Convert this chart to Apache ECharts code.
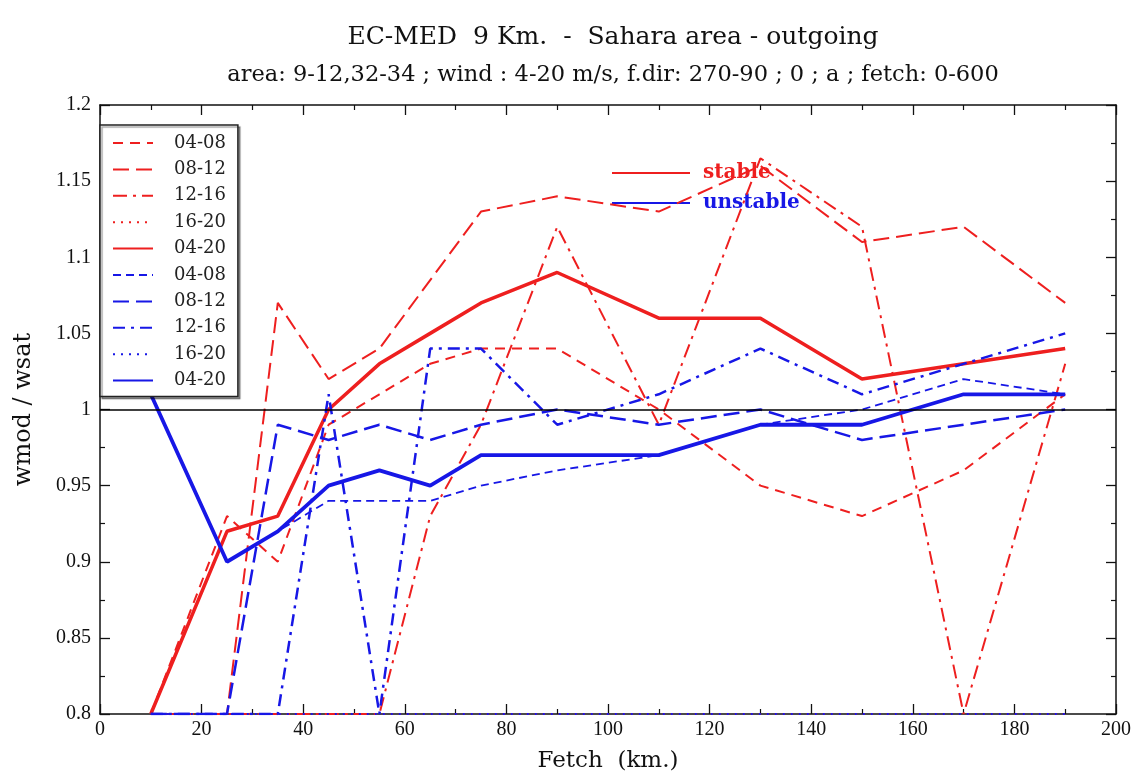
<!DOCTYPE html>
<html>
<head>
<meta charset="utf-8">
<script src="https://cdn.jsdelivr.net/npm/echarts@6/dist/echarts.min.js"></script>
<style>
html,body{margin:0;padding:0;background:#fff;}
#chart{width:1146px;height:778px;}
</style>
</head>
<body>
<div id="chart"></div>
<script>
// ---- data ----
const fetchKm = [10, 25, 35, 45, 55, 65, 75, 90, 110, 130, 150, 170, 190];

const stable0408 = [0.80, 0.93, 0.90, 0.99, 1.01, 1.03, 1.04, 1.04, 1.00, 0.95, 0.93, 0.96, 1.01];
const stable0812 = [0.80, 0.80, 1.07, 1.02, 1.04, 1.085, 1.13, 1.14, 1.13, 1.16, 1.11, 1.12, 1.07];
const stable1216 = [0.80, 0.80, 0.80, 0.80, 0.80, 0.93, 0.99, 1.12, 0.99, 1.165, 1.12, 0.80, 1.03];
const stable1620 = [0.80, 0.80, 0.80, 0.80, 0.80, 0.80, 0.80, 0.80, 0.80, 0.80, 0.80, 0.80, 0.80];
const stable0420 = [0.80, 0.92, 0.93, 1.00, 1.03, 1.05, 1.07, 1.09, 1.06, 1.06, 1.02, 1.03, 1.04];

const unstable0408 = [null, 0.90, 0.92, 0.94, 0.94, 0.94, 0.95, 0.96, 0.97, 0.99, 1.00, 1.02, 1.01];
const unstable0812 = [0.80, 0.80, 0.99, 0.98, 0.99, 0.98, 0.99, 1.00, 0.99, 1.00, 0.98, 0.99, 1.00];
const unstable1216 = [0.80, 0.80, 0.80, 1.01, 0.80, 1.04, 1.04, 0.99, 1.01, 1.04, 1.01, 1.03, 1.05];
const unstable1620 = [0.80, 0.80, 0.80, 0.80, 0.80, 0.80, 0.80, 0.80, 0.80, 0.80, 0.80, 0.80, 0.80];
const unstable0420 = [1.01, 0.90, 0.92, 0.95, 0.96, 0.95, 0.97, 0.97, 0.97, 0.99, 0.99, 1.01, 1.01];

const periodLabels = ['04-08', '08-12', '12-16', '16-20', '04-20'];
const referenceLevel = 1;

const xMin = 0, xMax = 200, xStep = 20;
const yMin = 0.8, yMax = 1.2, yStep = 0.05;

const titleText = 'EC-MED  9 Km.  -  Sahara area - outgoing';
const subtitleText = 'area: 9-12,32-34 ; wind : 4-20 m/s, f.dir: 270-90 ; 0 ; a ; fetch: 0-600';

// ---- styling ----
const RED = '#ee1f1f';
const BLUE = '#1717e6';
const FONT = 'DejaVu Serif';
const TICKFONT = 'Liberation Serif';

function pairs(arr) { return fetchKm.map((x, i) => [x, arr[i]]); }

const redSets = [stable0408, stable0812, stable1216, stable1620, stable0420];
const blueSets = [unstable0408, unstable0812, unstable1216, unstable1620, unstable0420];
const redStyles = [
  { type: [10, 7], width: 2 },
  { type: [16, 7], width: 2 },
  { type: [14, 6, 3, 6], width: 2 },
  { type: [2, 6], width: 2 },
  { type: 'solid', width: 3.5 }
];
const blueStyles = [
  { type: [8, 5], width: 1.8 },
  { type: [16, 7], width: 2.5 },
  { type: [12, 6, 3, 6], width: 2.5 },
  { type: [2, 6], width: 2.2 },
  { type: 'solid', width: 3.8 }
];

const series = [];
const legendNames = [];
periodLabels.forEach((p, i) => {
  const name = 'r' + p;
  legendNames.push(name);
  series.push({
    name, type: 'line', symbol: 'none', data: pairs(redSets[i]),
    color: RED,
    lineStyle: Object.assign({ color: RED }, redStyles[i]),
    z: 2
  });
});
periodLabels.forEach((p, i) => {
  const name = 'b' + p;
  legendNames.push(name);
  series.push({
    name, type: 'line', symbol: 'none', data: pairs(blueSets[i]),
    color: BLUE,
    lineStyle: Object.assign({ color: BLUE }, blueStyles[i]),
    z: 3
  });
});
// reference line at wmod/wsat = 1
series[0].markLine = {
  silent: true, symbol: 'none', label: { show: false },
  lineStyle: { color: '#000', type: 'solid', width: 1.5 },
  data: [{ yAxis: referenceLevel }]
};
// dummy series for the stable / unstable key
series.push({ name: 'stable', type: 'line', symbol: 'none', data: [], color: RED, lineStyle: { color: RED, width: 4 } });
series.push({ name: 'unstable', type: 'line', symbol: 'none', data: [], color: BLUE, lineStyle: { color: BLUE, width: 2 } });

const tickCommon = {
  axisLine: { show: true, onZero: false, lineStyle: { color: '#111', width: 1.5 } },
  axisTick: { show: true, inside: true, length: 10, lineStyle: { color: '#111', width: 1.3 } },
  minorTick: { show: true, splitNumber: 2, length: 5, lineStyle: { color: '#111', width: 1.2 } },
  splitLine: { show: false }
};

const noSymbol = { opacity: 0, color: 'rgba(0,0,0,0)', borderWidth: 0 };

const chart = echarts.init(document.getElementById('chart'), null, { renderer: 'canvas' });
chart.setOption({
  backgroundColor: '#fff',
  animation: false,
  title: [
    { text: titleText, left: 608, top: 20, textAlign: 'center',
      textStyle: { fontFamily: FONT, fontSize: 25, fontWeight: 'normal', color: '#111' } },
    { text: subtitleText, left: 608, top: 59, textAlign: 'center',
      textStyle: { fontFamily: FONT, fontSize: 22.5, fontWeight: 'normal', color: '#111' } }
  ],
  grid: { left: 100, right: 30, top: 105, bottom: 63 },
  xAxis: [
    Object.assign({
      type: 'value', min: xMin, max: xMax, interval: xStep, position: 'bottom',
      name: 'Fetch  (km.)', nameLocation: 'middle', nameGap: 36,
      nameTextStyle: { fontFamily: FONT, fontSize: 23, color: '#111' },
      axisLabel: { fontFamily: TICKFONT, fontSize: 20, color: '#111', margin: 6 }
    }, tickCommon),
    Object.assign({
      type: 'value', min: xMin, max: xMax, interval: xStep, position: 'top',
      axisLabel: { show: false }
    }, tickCommon)
  ],
  yAxis: [
    Object.assign({
      type: 'value', min: yMin, max: yMax, interval: yStep, position: 'left',
      name: 'wmod / wsat', nameLocation: 'middle', nameGap: 64, nameRotate: 90,
      nameTextStyle: { fontFamily: FONT, fontSize: 24, color: '#111' },
      axisLabel: { fontFamily: TICKFONT, fontSize: 20, color: '#111', margin: 9 }
    }, tickCommon),
    Object.assign({
      type: 'value', min: yMin, max: yMax, interval: yStep, position: 'right',
      axisLabel: { show: false }
    }, tickCommon)
  ],
  legend: [
    {
      data: legendNames,
      orient: 'vertical', left: 100, top: 125,
      padding: [8, 12, 6, 12],
      itemWidth: 40, itemHeight: 14, itemGap: 6.4,
      formatter: n => n.slice(1),
      itemStyle: noSymbol,
      textStyle: { fontFamily: FONT, fontSize: 18, color: '#222', lineHeight: 20, padding: [0, 0, 0, 16] },
      borderColor: '#222', borderWidth: 1.5, backgroundColor: '#fff',
      shadowColor: 'rgba(0,0,0,0.35)', shadowOffsetX: 2, shadowOffsetY: 2, shadowBlur: 1,
      selectedMode: false, z: 10
    },
    {
      data: [{ name: 'stable' }],
      orient: 'vertical', left: 611, top: 153, padding: 0,
      itemWidth: 78, itemHeight: 12,
      itemStyle: noSymbol,
      textStyle: { fontFamily: FONT, fontSize: 20, fontWeight: 'bold', color: RED, lineHeight: 20, padding: [0, 0, 20, 8] },
      selectedMode: false, z: 1
    },
    {
      data: [{ name: 'unstable' }],
      orient: 'vertical', left: 611, top: 191, padding: 0,
      itemWidth: 78, itemHeight: 12,
      itemStyle: noSymbol,
      textStyle: { fontFamily: FONT, fontSize: 20, fontWeight: 'bold', color: BLUE, lineHeight: 20, padding: [4, 0, 0, 8] },
      selectedMode: false, z: 1
    }
  ],
  series
});
</script>
</body>
</html>
